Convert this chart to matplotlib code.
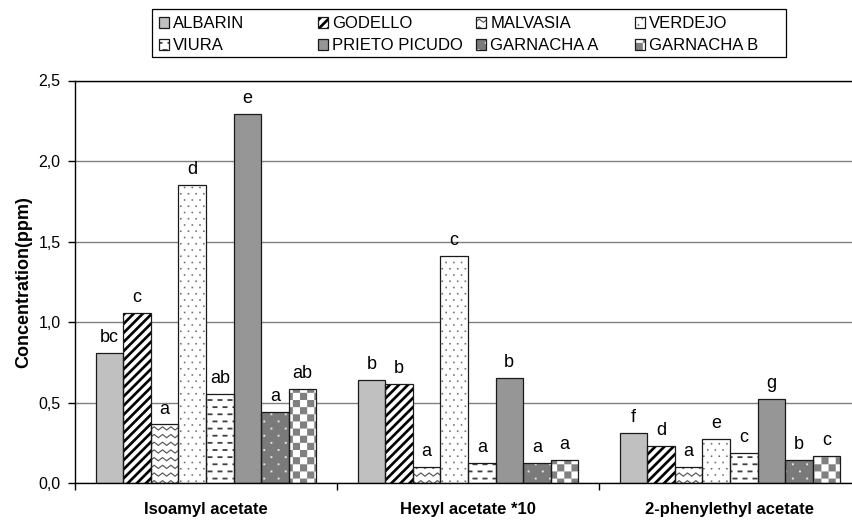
import warnings
import numpy as np
import matplotlib
matplotlib.use("Agg")
import matplotlib.pyplot as plt
from matplotlib import hatch as mhatch
from matplotlib.path import Path
from matplotlib.patches import Rectangle
from matplotlib.ticker import FixedLocator, FuncFormatter

warnings.filterwarnings("ignore")

# ---------------------------------------------------------------- data
compounds = ["Isoamyl acetate", "Hexyl acetate *10", "2-phenylethyl acetate"]
varieties = ["ALBARIN", "GODELLO", "MALVASIA", "VERDEJO", "VIURA",
             "PRIETO PICUDO", "GARNACHA A", "GARNACHA B"]

albarin = [0.81, 0.643, 0.314]
godello = [1.055, 0.619, 0.234]
malvasia = [0.365, 0.101, 0.101]
verdejo = [1.853, 1.41, 0.273]
viura = [0.553, 0.128, 0.19]
prieto_picudo = [2.294, 0.656, 0.525]
garnacha_a = [0.443, 0.128, 0.143]
garnacha_b = [0.588, 0.145, 0.17]

letters_albarin = ["bc", "b", "f"]
letters_godello = ["c", "b", "d"]
letters_malvasia = ["a", "a", "a"]
letters_verdejo = ["d", "c", "e"]
letters_viura = ["ab", "a", "c"]
letters_prieto_picudo = ["e", "b", "g"]
letters_garnacha_a = ["a", "a", "b"]
letters_garnacha_b = ["ab", "a", "c"]

yticks = [0.0, 0.5, 1.0, 1.5, 2.0, 2.5]

series = [albarin, godello, malvasia, verdejo, viura,
          prieto_picudo, garnacha_a, garnacha_b]
letters = [letters_albarin, letters_godello, letters_malvasia, letters_verdejo,
           letters_viura, letters_prieto_picudo, letters_garnacha_a,
           letters_garnacha_b]

# ------------------------------------------------- custom fill patterns
TILE = 100.0  # one hatch tile is 72 pt = 100 px at 100 dpi


def _rect(cx, cy, w, h):
    return [(cx - w / 2, cy - h / 2), (cx + w / 2, cy - h / 2),
            (cx + w / 2, cy + h / 2), (cx - w / 2, cy + h / 2),
            (cx - w / 2, cy - h / 2)]


def _stagger(nx, ny, w, h):
    px, py = TILE / nx, TILE / ny
    polys = []
    for r in range(-1, ny + 2):
        off = (r % 2) * px / 2
        for c in range(-1, nx + 2):
            polys.append(_rect(c * px + off, r * py, w, h))
    return polys


class TileHatch(mhatch.HatchPatternBase):
    symbol = ""

    def __init__(self, hatch, density):
        polys = self.polygons() if (hatch and self.symbol in hatch) else []
        verts, codes = [], []
        for p in polys:
            verts.extend(p)
            codes.extend([Path.MOVETO] + [Path.LINETO] * (len(p) - 2)
                         + [Path.CLOSEPOLY])
        self.verts = np.asarray(verts, float).reshape(-1, 2) / TILE
        self.codes = np.asarray(codes, dtype=Path.code_type)
        self.num_vertices = len(self.verts)

    def polygons(self):
        return []

    def set_vertices_and_codes(self, vertices, codes):
        vertices[:] = self.verts
        codes[:] = self.codes


class WideStripes(TileHatch):
    symbol = "g"

    def polygons(self):
        n, t = 11, 3.8
        p = TILE / n
        return [[(k * p, 0), (k * p + t, 0), (k * p + t + TILE, TILE),
                 (k * p + TILE, TILE), (k * p, 0)]
                for k in range(-n - 1, n + 1)]


class Waves(TileHatch):
    symbol = "z"

    def polygons(self):
        nx, ny, amp, th = 12, 13, 3.2, 1.5
        px, py = TILE / nx, TILE / ny
        xs = np.arange(-2, 2 * nx + 3) * px / 2
        bumps = np.where(np.arange(len(xs)) % 2 == 1, amp, 0.0)
        polys = []
        for r in range(-1, ny + 1):
            ys = r * py + bumps
            top = list(zip(xs, ys + th))
            bot = list(zip(xs[::-1], ys[::-1]))
            polys.append(top + bot + [top[0]])
        return polys


class SmallDots(TileHatch):
    symbol = "d"

    def polygons(self):
        return _stagger(13, 16, 1.6, 1.6)


class Dashes(TileHatch):
    symbol = "h"

    def polygons(self):
        return _stagger(10, 14, 5.0, 1.8)


class SparseDots(TileHatch):
    symbol = "w"

    def polygons(self):
        return _stagger(7, 14, 1.9, 1.9)


class Checker(TileHatch):
    symbol = "c"

    def polygons(self):
        n = 14
        s = TILE / n
        return [_rect((i + 0.5) * s, (j + 0.5) * s, s, s)
                for i in range(n) for j in range(n) if (i + j) % 2 == 0]


mhatch._hatch_types.extend([WideStripes, Waves, SmallDots, Dashes,
                            SparseDots, Checker])

# (face colour, pattern colour, pattern)
styles = [
    ("#C0C0C0", "#C0C0C0", None),
    ("white", "black", "g"),
    ("white", "#5A5A5A", "z"),
    ("white", "#6E6E6E", "d"),
    ("white", "#404040", "h"),
    ("#969696", "#969696", None),
    ("#7A7A7A", "#E6E6E6", "w"),
    ("white", "#808080", "c"),
]

# ---------------------------------------------------------------- figure
plt.rcParams["font.family"] = ["Liberation Sans", "DejaVu Sans"]
plt.rcParams["hatch.linewidth"] = 0.01

W, H = 852, 521
fig = plt.figure(figsize=(W / 100, H / 100), dpi=100)
ax = fig.add_axes([75 / W, 1 - 483.3 / H, 786 / W, 402.8 / H])

x = np.arange(len(compounds))
width = 0.105
handles = []
for i, (vals, labs, (face, pcol, pat)) in enumerate(zip(series, letters, styles)):
    pos = x + (i - 3.5) * width
    fill_bars = ax.bar(pos, vals, width, color=face, edgecolor=pcol,
                       linewidth=0, hatch=pat, zorder=2)
    edge_bars = ax.bar(pos, vals, width, fill=False, edgecolor="#1A1A1A",
                       linewidth=0.9, zorder=3)
    handles.append((fill_bars, edge_bars))
    for p, v, lab in zip(pos, vals, labs):
        ax.annotate(lab, (p, v), xytext=(0, 5), textcoords="offset points",
                    ha="center", va="bottom", fontsize=13, color="black")

# axes
ax.set_ylim(0, 2.5)
ax.set_xlim(-0.5, len(compounds) - 0.5)
ax.yaxis.set_major_locator(FixedLocator(yticks))
ax.yaxis.set_major_formatter(FuncFormatter(lambda v, _: f"{v:.1f}".replace(".", ",")))
ax.tick_params(axis="y", direction="out", length=5, width=1, pad=5.5,
               labelsize=11.5, color="black")
ax.yaxis.grid(True, color="#808080", linewidth=1)
ax.set_axisbelow(True)

ax.xaxis.set_major_locator(FixedLocator(np.arange(len(compounds) + 1) - 0.5))
ax.xaxis.set_major_formatter(FuncFormatter(lambda v, _: ""))
ax.set_xticks(x, compounds, minor=True)
ax.tick_params(axis="x", which="major", direction="out", length=5, width=1)
ax.tick_params(axis="x", which="minor", length=0, pad=13.5, labelsize=12)
for t in ax.get_xticklabels(minor=True):
    t.set_fontweight("bold")

for side in ("left", "bottom", "top"):
    ax.spines[side].set_color("black")
    ax.spines[side].set_linewidth(1)
ax.spines["right"].set_visible(False)

ax.set_ylabel("Concentration(ppm)", fontsize=13, fontweight="bold")
ax.yaxis.label.set_verticalalignment("center")
ax.yaxis.set_label_coords((24 - 75) / 786, 0.5)

# legend: a framed box holding four equal-width columns of two entries
ncol = 4
box_left, box_right, box_top, box_bottom = 152, 786, 9.5, 56.5
col_pitch = (box_right - box_left) / ncol
fig.add_artist(Rectangle((box_left / W, 1 - box_bottom / H),
                         (box_right - box_left) / W,
                         (box_bottom - box_top) / H,
                         transform=fig.transFigure, facecolor="white",
                         edgecolor="black", linewidth=0.9, zorder=4))
for c in range(ncol):
    idx = list(range(c, len(varieties), ncol))
    fig.legend([handles[k] for k in idx], [varieties[k] for k in idx],
               loc="upper left",
               bbox_to_anchor=((box_left + 7 + c * col_pitch) / W, 1 - 16.5 / H),
               fontsize=12, frameon=False, handlelength=0.6,
               handleheight=0.6, handletextpad=0.25, labelspacing=0.41,
               borderpad=0, borderaxespad=0)

fig.savefig("out.png", dpi=100)
